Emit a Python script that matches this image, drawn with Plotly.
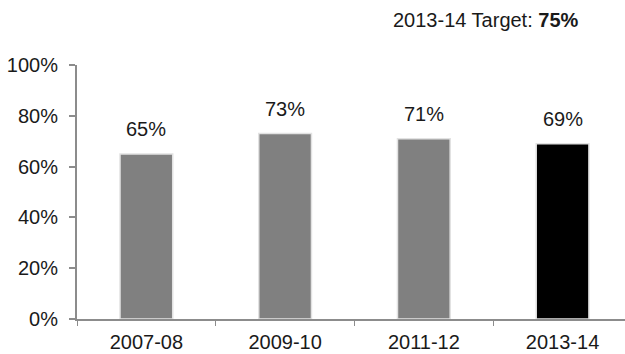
import plotly.graph_objects as go

# Survey years and the share reaching the measure (percent)
years = ["2007-08", "2009-10", "2011-12", "2013-14"]
values = [65, 73, 71, 69]
bar_colors = ["#808080", "#808080", "#808080", "#000000"]
target_label = "2013-14 Target: <b>75%</b>"
y_ticks = [0, 20, 40, 60, 80, 100]
y_tick_text = ["0%", "20%", "40%", "60%", "80%", "100%"]

FONT = "Arial, Liberation Sans, sans-serif"
AXIS_GREY = "#8c8c8c"

fig = go.Figure()
fig.add_trace(go.Bar(
    x=years,
    y=values,
    width=0.38,
    marker=dict(color=bar_colors, line=dict(color="#e2e2e2", width=1.5)),
    hoverinfo="x+y",
))

# Value labels sitting above each bar
for yr, v in zip(years, values):
    fig.add_annotation(
        x=yr, y=v, text=f"{v}%", showarrow=False,
        yanchor="bottom", yshift=12,
        font=dict(family=FONT, size=20, color="#1a1a1a"),
    )

fig.add_annotation(
    xref="paper", yref="paper", x=0.92, y=1.177,
    xanchor="right", yanchor="middle", showarrow=False,
    text=target_label,
    font=dict(family=FONT, size=20, color="#1a1a1a"),
)

fig.update_layout(
    width=625, height=354,
    margin=dict(l=77, r=0, t=65, b=35),
    paper_bgcolor="white", plot_bgcolor="white",
    showlegend=False,
    font=dict(family=FONT, size=20, color="#1a1a1a"),
)
fig.update_xaxes(
    type="category",
    range=[-0.5, 3.45],
    showline=True, linecolor=AXIS_GREY, linewidth=2,
    ticks="outside", tickson="boundaries", ticklen=5, tickcolor=AXIS_GREY, tickwidth=1,
    showgrid=False, zeroline=False,
    tickfont=dict(family=FONT, size=20, color="#1a1a1a"),
    ticklabelstandoff=4,
    automargin=False,
)
fig.update_yaxes(
    range=[0, 100], tickvals=y_ticks, ticktext=y_tick_text,
    showline=True, linecolor=AXIS_GREY, linewidth=2,
    ticks="outside", ticklen=6, tickcolor=AXIS_GREY, tickwidth=2,
    showgrid=False, zeroline=False,
    tickfont=dict(family=FONT, size=20, color="#1a1a1a"),
    ticklabelstandoff=7,
    automargin=False,
)

fig.write_html("out.html")
